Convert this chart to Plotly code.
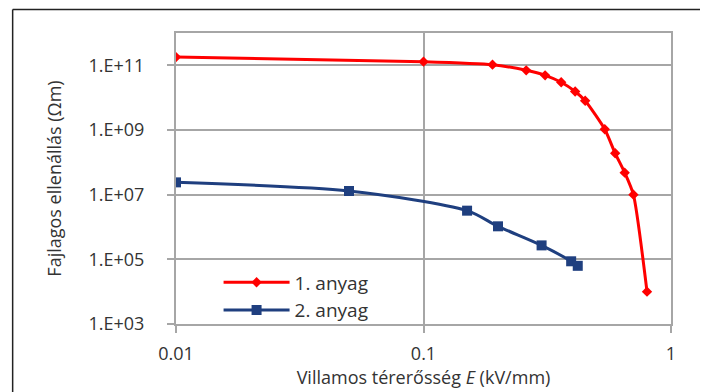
import plotly.graph_objects as go

# Series 1: "1. anyag"
E1 = [0.01, 0.1, 0.19, 0.26, 0.31, 0.36, 0.41, 0.45, 0.54, 0.595, 0.65, 0.705, 0.80]
R1 = [1.8e11, 1.3e11, 1.05e11, 7e10, 4.9e10, 3e10, 1.55e10, 8e9, 1.05e9, 1.9e8, 4.8e7, 1e7, 1e4]

# Series 2: "2. anyag"
E2 = [0.01, 0.05, 0.15, 0.2, 0.3, 0.395, 0.42]
R2 = [2.4e7, 1.3e7, 3.2e6, 1.05e6, 2.7e5, 8.7e4, 6.3e4]

series_names = ["1. anyag", "2. anyag"]

x_tickvals = [0.01, 0.1, 1]
x_ticktext = ["0.01", "0.1", "1"]
y_tickvals = [1e3, 1e5, 1e7, 1e9, 1e11]
y_ticktext = ["1.E+03", "1.E+05", "1.E+07", "1.E+09", "1.E+11"]

FONT = "Open Sans"
GRID = "#a6a6a6"
TXT = "#333333"

fig = go.Figure()
fig.add_trace(go.Scatter(
    x=E1, y=R1, name=series_names[0], mode="lines+markers",
    line=dict(color="#ff0000", width=3, shape="spline", smoothing=0.6),
    marker=dict(symbol="diamond", size=8, color="#ff0000"),
))
fig.add_trace(go.Scatter(
    x=E2, y=R2, name=series_names[1], mode="lines+markers",
    line=dict(color="#1f3f7f", width=3, shape="spline", smoothing=0.8),
    marker=dict(symbol="square", size=10, color="#1f3f7f"),
))

fig.update_layout(
    width=700, height=384,
    margin=dict(l=168, r=37, t=25, b=68),
    paper_bgcolor="white", plot_bgcolor="white",
    font=dict(family=FONT, size=18, color=TXT),
    showlegend=True,
    legend=dict(
        x=0.086, y=0.208, xanchor="left", yanchor="top",
        bgcolor="rgba(0,0,0,0)", font=dict(size=19, color=TXT),
        itemwidth=66, tracegroupgap=0,
    ),
    xaxis=dict(
        type="log", range=[-2, 0],
        tickvals=x_tickvals, ticktext=x_ticktext,
        showgrid=True, gridcolor=GRID, gridwidth=2,
        showline=True, linecolor=GRID, linewidth=2, mirror=True,
        ticks="outside", ticklen=7, tickcolor=GRID, tickwidth=2,
        ticklabelstandoff=5,
        zeroline=False,
        title=dict(text="Villamos térerősség <i>E</i> (kV/mm)", standoff=0,
                   font=dict(size=18, color=TXT)),
    ),
    yaxis=dict(
        type="log", range=[3, 12],
        tickvals=y_tickvals, ticktext=y_ticktext,
        showgrid=True, gridcolor=GRID, gridwidth=2,
        showline=True, linecolor=GRID, linewidth=2, mirror=True,
        ticks="outside", ticklen=7, tickcolor=GRID, tickwidth=2,
        ticklabelstandoff=19,
        zeroline=False,
        title=dict(text="Fajlagos ellenállás (Ωm)", standoff=22,
                   font=dict(size=18, color=TXT)),
    ),
)

# outer chart frame (top and left edges visible in the crop)
fig.add_shape(type="line", xref="paper", yref="paper",
              x0=-0.330, x1=1.2, y0=1.081, y1=1.081,
              line=dict(color="#222222", width=1.5))
fig.add_shape(type="line", xref="paper", yref="paper",
              x0=-0.330, x1=-0.330, y0=1.081, y1=-0.3,
              line=dict(color="#222222", width=1.5))

fig.write_html("out.html")
